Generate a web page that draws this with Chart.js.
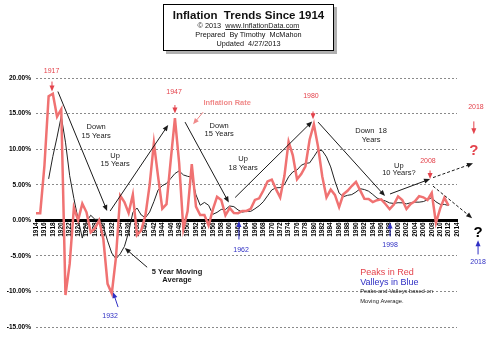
<!DOCTYPE html>
<html>
<head>
<meta charset="utf-8">
<script src="https://cdn.jsdelivr.net/npm/chart.js@4.4.0/dist/chart.umd.min.js"></script>
<style>
  body { margin: 0; background: #fff; }
  #wrap { position: relative; width: 500px; height: 340px; font-family: 'Liberation Sans', Arial, sans-serif; }
  #titleBox { position: absolute; left: 163px; top: 4px; width: 169px; height: 45px; border: 1px solid #000;
    background: #fff; box-shadow: 3px 3px 0 #b0b0b0; text-align: center; color: #111; }
  #titleBox .t { font-weight: bold; font-size: 11.5px; line-height: 12px; margin-top: 4px; }
  #titleBox .s { font-size: 7.3px; line-height: 9px; }
  #titleBox a { color: #222; text-decoration: underline; }
</style>
</head>
<body>
<div id="wrap">
  <canvas id="inflationChart" width="500" height="340"></canvas>
  <div id="titleBox">
    <div class="t">Inflation&nbsp; Trends Since 1914</div>
    <div class="s">© 2013&nbsp; <a>www.InflationData.com</a></div>
    <div class="s">Prepared&nbsp; By Timothy&nbsp; McMahon</div>
    <div class="s">Updated&nbsp; 4/27/2013</div>
  </div>
</div>
<script>
const years = [
  1914, 1915, 1916, 1917, 1918, 1919, 1920, 1921, 1922, 1923,
  1924, 1925, 1926, 1927, 1928, 1929, 1930, 1931, 1932, 1933,
  1934, 1935, 1936, 1937, 1938, 1939, 1940, 1941, 1942, 1943,
  1944, 1945, 1946, 1947, 1948, 1949, 1950, 1951, 1952, 1953,
  1954, 1955, 1956, 1957, 1958, 1959, 1960, 1961, 1962, 1963,
  1964, 1965, 1966, 1967, 1968, 1969, 1970, 1971, 1972, 1973,
  1974, 1975, 1976, 1977, 1978, 1979, 1980, 1981, 1982, 1983,
  1984, 1985, 1986, 1987, 1988, 1989, 1990, 1991, 1992, 1993,
  1994, 1995, 1996, 1997, 1998, 1999, 2000, 2001, 2002, 2003,
  2004, 2005, 2006, 2007, 2008, 2009, 2010, 2011, 2012
];

// annual inflation rate, %
const inflation = [
  1.00, 1.00, 7.64, 17.44, 17.80, 14.57, 15.61, -10.50, -6.13, 1.79,
  0.00, 2.34, 1.12, -1.69, -1.14, 0.00, -2.67, -8.93, -10.30, -5.19,
  3.48, 2.55, 1.03, 3.60, -2.08, -1.42, 0.72, 5.00, 10.88, 6.13,
  1.64, 2.27, 8.43, 14.36, 8.07, -1.24, 1.26, 7.88, 1.92, 0.75,
  0.75, -0.74, 1.50, 3.31, 2.85, 0.69, 1.72, 1.01, 1.00, 1.32,
  1.31, 1.61, 2.86, 3.09, 4.19, 5.46, 5.72, 4.38, 3.21, 6.22,
  11.04, 9.13, 5.76, 6.50, 7.59, 11.35, 13.50, 10.32, 6.16, 3.21,
  4.32, 3.56, 1.86, 3.65, 4.14, 4.82, 5.40, 4.21, 3.01, 2.99,
  2.56, 2.83, 2.95, 2.29, 1.56, 2.21, 3.36, 2.85, 1.58, 2.28,
  2.66, 3.39, 3.23, 2.85, 3.84, -0.36, 1.64, 3.16, 2.07
];

// 5 year moving average, %
const movingAvg = [
  null, null, null, 5.82, 8.98, 11.69, 14.61, 10.98, 6.27, 3.07,
  0.15, -2.50, -0.18, 0.71, 0.13, 0.13, -0.88, -2.89, -4.61, -5.42,
  -4.72, -3.68, -1.69, 1.09, 1.72, 0.74, 0.37, 1.16, 2.62, 4.26,
  4.87, 5.18, 5.87, 6.57, 6.95, 6.38, 6.18, 6.07, 3.58, 2.11,
  2.51, 2.11, 0.84, 1.11, 1.53, 1.52, 2.01, 1.92, 1.45, 1.15,
  1.27, 1.25, 1.62, 2.04, 2.61, 3.44, 4.26, 4.57, 4.59, 5.00,
  6.11, 6.80, 7.07, 7.73, 8.00, 8.07, 8.94, 9.85, 9.78, 8.91,
  7.50, 5.51, 3.82, 3.32, 3.51, 3.61, 3.97, 4.44, 4.32, 4.09,
  3.63, 3.12, 2.87, 2.72, 2.44, 2.37, 2.47, 2.45, 2.31, 2.46,
  2.55, 2.55, 2.63, 2.88, 3.19, 2.59, 2.24, 2.23, 2.07
];

const yearTicks = [
  1914, 1916, 1918, 1920, 1922, 1924, 1926, 1928, 1930, 1932, 1934, 1936, 1938,
  1940, 1942, 1944, 1946, 1948, 1950, 1952, 1954, 1956, 1958, 1960, 1962, 1964,
  1966, 1968, 1970, 1972, 1974, 1976, 1978, 1980, 1982, 1984, 1986, 1988, 1990,
  1992, 1994, 1996, 1998, 2000, 2002, 2004, 2006, 2008, 2010, 2012, 2014
];

const RED = '#e4434c';
const BLUE = '#2f2fc4';
const PINK = '#f08a8a';
const INK = '#1a1a1a';
const small = '7px "Liberation Sans", Arial, sans-serif';
const body = '7.5px "Liberation Sans", Arial, sans-serif';

// text notes placed in data units (year, percent)
const notes = [
  { text: '1917', x: 1917.7, y: 21.0, color: RED, font: small },
  { text: '1947', x: 1946.8, y: 18.0, color: RED, font: small },
  { text: '1980', x: 1979.3, y: 17.4, color: RED, font: small },
  { text: '2008', x: 2007.1, y: 8.3, color: RED, font: small },
  { text: '2018', x: 2018.5, y: 15.9, color: RED, font: small },
  { text: '?', x: 2018.0, y: 9.7, color: RED, font: 'bold 15px "Liberation Sans", Arial, sans-serif' },
  { text: 'Inflation Rate', x: 1959.4, y: 16.5, color: PINK, font: 'bold 7.5px "Liberation Sans", Arial, sans-serif' },
  { text: '1932', x: 1931.6, y: -13.5, color: BLUE, font: small },
  { text: '1962', x: 1962.7, y: -4.2, color: BLUE, font: small },
  { text: '1998', x: 1998.1, y: -3.5, color: BLUE, font: small },
  { text: '2018', x: 2019.0, y: -5.9, color: BLUE, font: small },
  { text: '?', x: 2019.0, y: -1.7, color: '#000', font: 'bold 15px "Liberation Sans", Arial, sans-serif' },
  { text: 'Down', x: 1928.3, y: 13.1, color: INK, font: body },
  { text: '15 Years', x: 1928.3, y: 11.8, color: INK, font: body },
  { text: 'Up', x: 1932.8, y: 9.0, color: INK, font: body },
  { text: '15 Years', x: 1932.8, y: 7.9, color: INK, font: body },
  { text: 'Down', x: 1957.5, y: 13.2, color: INK, font: body },
  { text: '15 Years', x: 1957.5, y: 12.1, color: INK, font: body },
  { text: 'Up', x: 1963.2, y: 8.6, color: INK, font: body },
  { text: '18 Years', x: 1963.2, y: 7.3, color: INK, font: body },
  { text: 'Down  18', x: 1993.6, y: 12.5, color: INK, font: body },
  { text: 'Years', x: 1993.6, y: 11.3, color: INK, font: body },
  { text: 'Up', x: 2000.2, y: 7.7, color: INK, font: body },
  { text: '10 Years?', x: 2000.2, y: 6.6, color: INK, font: body },
  { text: '5 Year Moving', x: 1947.5, y: -7.2, color: INK, font: 'bold 7.5px "Liberation Sans", Arial, sans-serif' },
  { text: 'Average', x: 1947.5, y: -8.4, color: INK, font: 'bold 7.5px "Liberation Sans", Arial, sans-serif' },
  { text: 'Peaks in Red', x: 1991.0, y: -7.3, color: RED, font: '9px "Liberation Sans", Arial, sans-serif', align: 'left' },
  { text: 'Valleys in Blue', x: 1991.0, y: -8.7, color: BLUE, font: '9px "Liberation Sans", Arial, sans-serif', align: 'left' },
  { text: 'Peaks and Valleys based on', x: 1991.0, y: -10.0, color: INK, font: '5.8px "Liberation Sans", Arial, sans-serif', align: 'left' },
  { text: 'Moving Average.', x: 1991.0, y: -11.4, color: INK, font: '5.8px "Liberation Sans", Arial, sans-serif', align: 'left' },
];

// arrows: from -> to, in data units
const arrows = [
  { from: [1919.2, 18.1], to: [1930.9, 1.3], color: INK },
  { from: [1931.6, 1.3], to: [1945.4, 13.4], color: INK },
  { from: [1949.4, 13.8], to: [1959.8, 2.5], color: INK },
  { from: [1961.3, 3.2], to: [1979.6, 13.9], color: INK },
  { from: [1981.0, 13.8], to: [1996.9, 3.4], color: INK },
  { from: [1998.1, 3.7], to: [2007.6, 5.8], color: INK },
  { from: [2008.3, 6.0], to: [2017.8, 8.0], color: INK, dashed: true },
  { from: [2008.3, 4.8], to: [2017.6, 0.3], color: INK, dashed: true },
  { from: [1940.4, -6.6], to: [1935.1, -3.9], color: INK },
  { from: [1953.7, 15.2], to: [1951.3, 13.5], color: PINK },
  { from: [1917.8, 19.5], to: [1917.8, 18.1], color: RED },
  { from: [1947.0, 16.2], to: [1947.0, 15.0], color: RED },
  { from: [1979.8, 15.3], to: [1979.8, 14.2], color: RED },
  { from: [2007.6, 7.0], to: [2007.6, 5.8], color: RED },
  { from: [2018.0, 13.9], to: [2018.0, 12.1], color: RED },
  { from: [1933.5, -12.2], to: [1932.3, -10.1], color: BLUE },
  { from: [1962.2, -2.7], to: [1962.2, -0.1], color: BLUE },
  { from: [1998.1, -2.25], to: [1998.1, -0.3], color: BLUE },
  { from: [2019.0, -4.8], to: [2019.0, -2.8], color: BLUE },
];

function drawArrow(ctx, x1, y1, x2, y2, color, dashed) {
  const a = Math.atan2(y2 - y1, x2 - x1);
  const c = Math.cos(a), s = Math.sin(a);
  ctx.strokeStyle = color;
  ctx.fillStyle = color;
  ctx.lineWidth = 1;
  ctx.setLineDash(dashed ? [3, 2] : []);
  ctx.beginPath();
  ctx.moveTo(x1, y1);
  ctx.lineTo(x2 - 4 * c, y2 - 4 * s);
  ctx.stroke();
  ctx.setLineDash([]);
  ctx.beginPath();
  ctx.moveTo(x2, y2);
  ctx.lineTo(x2 - 6 * c + 2.5 * s, y2 - 6 * s - 2.5 * c);
  ctx.lineTo(x2 - 6 * c - 2.5 * s, y2 - 6 * s + 2.5 * c);
  ctx.closePath();
  ctx.fill();
}

const notesPlugin = {
  id: 'notes',
  afterDraw(chart) {
    const { ctx, scales: { x, y } } = chart;
    ctx.save();
    arrows.forEach(a => {
      drawArrow(ctx, x.getPixelForValue(a.from[0]), y.getPixelForValue(a.from[1]),
        x.getPixelForValue(a.to[0]), y.getPixelForValue(a.to[1]), a.color, a.dashed);
    });
    ctx.textBaseline = 'middle';
    notes.forEach(n => {
      ctx.font = n.font;
      ctx.fillStyle = n.color;
      ctx.textAlign = n.align || 'center';
      ctx.fillText(n.text, x.getPixelForValue(n.x), y.getPixelForValue(n.y));
    });
    ctx.restore();
  }
};

Chart.defaults.font.family = '"Liberation Sans", Arial, sans-serif';

const ctx = document.getElementById('inflationChart').getContext('2d');
new Chart(ctx, {
  type: 'line',
  data: {
    datasets: [
      {
        label: 'Inflation Rate',
        data: years.map((yr, i) => ({ x: yr, y: inflation[i] })),
        borderColor: '#f07272',
        borderWidth: 2.5,
        pointRadius: 0,
        tension: 0,
      },
      {
        label: '5 Year Moving Average',
        data: years.map((yr, i) => ({ x: yr, y: movingAvg[i] })),
        borderColor: '#222',
        borderWidth: 1,
        pointRadius: 0,
        tension: 0,
      },
    ],
  },
  options: {
    responsive: false,
    animation: false,
    layout: { padding: { left: 0, right: 43, top: 78, bottom: 13 } },
    plugins: {
      legend: { display: false },
      tooltip: { enabled: false },
    },
    scales: {
      x: {
        type: 'linear',
        min: 1914,
        max: 2014,
        position: { y: 0 },
        afterBuildTicks: (scale) => { scale.ticks = yearTicks.map(v => ({ value: v })); },
        ticks: {
          minRotation: 90,
          maxRotation: 90,
          autoSkip: false,
          padding: 2,
          color: '#000',
          font: { size: 6.5, weight: 'bold' },
          callback: (v) => String(v),
        },
        grid: { display: false, drawTicks: false },
        border: { display: true, color: '#000', width: 3 },
      },
      y: {
        min: -15,
        max: 20,
        afterFit: (scale) => { scale.width = 36; },
        ticks: {
          stepSize: 5,
          padding: 5,
          color: '#000',
          font: { size: 6.5, weight: 'bold' },
          callback: (v) => v.toFixed(2) + '%',
        },
        grid: { color: '#8a8a8a', lineWidth: 1, drawTicks: false },
        border: { display: false, dash: [2, 2] },
      },
    },
  },
  plugins: [notesPlugin],
});
</script>
</body>
</html>
